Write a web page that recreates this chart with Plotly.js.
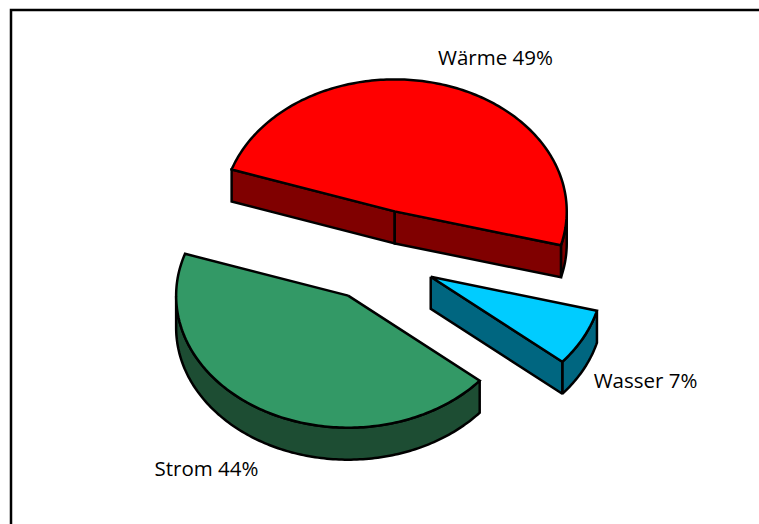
<!DOCTYPE html>
<html>
<head>
<meta charset="utf-8">
<script src="https://cdn.plot.ly/plotly-3.0.1.min.js"></script>
<style>html,body{margin:0;padding:0;background:#fff}#chart{width:759px;height:524px}</style>
</head>
<body>
<div id="chart"></div>
<script>
// Energy shares, clockwise from the start angle
const categories = ['Wärme', 'Wasser', 'Strom'];
const shares = [49, 7, 44];
const topColors = ['#ff0000', '#00ccff', '#339966'];
const sideColors = ['#800000', '#006680', '#1d4d33'];

// Projection of the tilted pie, in axis units
const startAngle = -71.5;
const radiusX = 172, radiusY = 132, depth = 32;
const pieCentre = [377.5, 255.5];
const explode = 60;
const labelX = [495.5, 645.5, 206.5];
const labelY = [59.5, 382.5, 470.5];

const rad = d => d * Math.PI / 180;

function rim(cx, cy, from, to, dy) {
  const xs = [], ys = [];
  const steps = Math.max(2, Math.ceil(Math.abs(to - from)));
  for (let i = 0; i <= steps; i++) {
    const t = rad(from + (to - from) * i / steps);
    xs.push(cx + radiusX * Math.sin(t));
    ys.push(cy - radiusY * Math.cos(t) + dy);
  }
  return [xs, ys];
}

function face(xs, ys, fill) {
  return {
    x: [...xs, xs[0]], y: [...ys, ys[0]],
    type: 'scatter', mode: 'lines', fill: 'toself', fillcolor: fill,
    line: {color: '#000000', width: 2.5, simplify: false},
    hoverinfo: 'skip', showlegend: false
  };
}

const traces = [];
let angle = startAngle;
shares.forEach((share, i) => {
  const from = angle, to = angle + share * 3.6;
  angle = to;
  const mid = rad((from + to) / 2);
  const cx = pieCentre[0] + explode * Math.sin(mid);
  const cy = pieCentre[1] - explode * (radiusY / radiusX) * Math.cos(mid);
  const px = t => cx + radiusX * Math.sin(rad(t));
  const py = t => cy - radiusY * Math.cos(rad(t));

  // Outer wall: the part of the rim facing the viewer
  const a = Math.max(from, 90), b = Math.min(to, 270);
  if (b > a) {
    const [x0, y0] = rim(cx, cy, a, b, 0);
    const [x1, y1] = rim(cx, cy, a, b, depth);
    traces.push(face([...x0, ...x1.reverse()], [...y0, ...y1.reverse()], sideColors[i]));
  }
  // Cut faces: each radial wall shows only when its normal points towards the viewer
  const radialWall = t => face([cx, px(t), px(t), cx], [cy, py(t), py(t) + depth, cy + depth], sideColors[i]);
  if (Math.sin(rad(from)) < 0) traces.push(radialWall(from));
  if (Math.sin(rad(to)) > 0) traces.push(radialWall(to));

  // Top surface
  const [xs, ys] = rim(cx, cy, from, to, 0);
  traces.push(face([cx, ...xs], [cy, ...ys], topColors[i]));
});

traces.push({
  x: labelX, y: labelY,
  text: categories.map((c, i) => `${c} ${shares[i]}%`),
  type: 'scatter', mode: 'text', textposition: 'middle center',
  textfont: {family: '"Open Sans", Lato, sans-serif', size: 20.5, color: '#000000'},
  hoverinfo: 'skip', showlegend: false
});

const layout = {
  width: 759, height: 524,
  margin: {l: 0, r: 0, t: 0, b: 0},
  paper_bgcolor: '#ffffff', plot_bgcolor: '#ffffff',
  xaxis: {range: [0, 759], visible: false, fixedrange: true},
  yaxis: {range: [524, 0], visible: false, fixedrange: true},
  // Frame: only the left and top edges fall inside the page
  shapes: [{type: 'path', xref: 'x', yref: 'y', path: 'M 11 526 L 11 10 L 761 10',
            line: {color: '#000000', width: 2.5}, layer: 'below'}]
};

Plotly.newPlot('chart', traces, layout, {displayModeBar: false, staticPlot: true});
</script>
</body>
</html>
